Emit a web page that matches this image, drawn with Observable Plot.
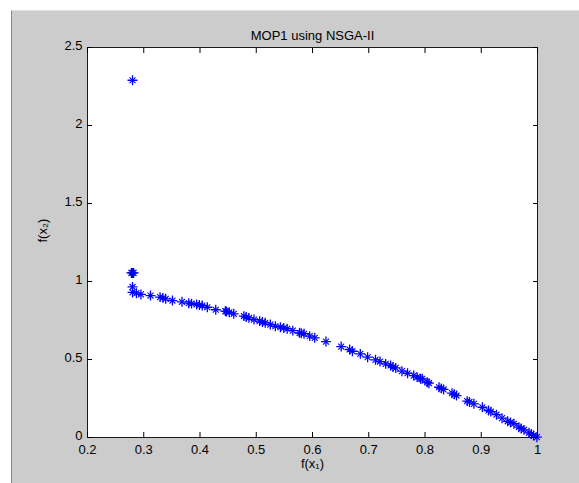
<!DOCTYPE html>
<html>
<head>
<meta charset="utf-8">
<script src="https://cdn.jsdelivr.net/npm/d3@7"></script>
<script src="https://cdn.jsdelivr.net/npm/@observablehq/plot@0.6"></script>
<style>
  html, body { margin: 0; padding: 0; background: #ffffff; width: 579px; height: 483px; overflow: hidden; }
  #fig { position: absolute; left: 11px; top: 10px; width: 568px; height: 473px; background: #cccccc; border-left: 1px solid #8a8a8a; border-top: 1px solid #e0e0e0; }
  #chart { position: absolute; left: 0; top: 0; }
</style>
</head>
<body>
<div id="fig"></div>
<div id="chart"></div>
<script>
const title = "MOP1 using NSGA-II";
const xLabel = "f(x\u2081)";
const yLabel = "f(x\u2082)";
const xTicks = [0.2, 0.3, 0.4, 0.5, 0.6, 0.7, 0.8, 0.9, 1];
const yTicks = [0, 0.5, 1, 1.5, 2, 2.5];

// f(x1) values of the NSGA-II population
const f1 = [0.28, 0.278, 0.282, 0.28, 0.28, 0.28, 0.287, 0.295, 0.312, 0.329, 0.334, 0.339, 0.351, 0.368, 0.38, 0.385, 0.394, 0.399, 0.404, 0.413, 0.428, 0.445, 0.447, 0.452, 0.46, 0.478, 0.482, 0.487, 0.496, 0.506, 0.511, 0.516, 0.525, 0.534, 0.543, 0.549, 0.555, 0.565, 0.577, 0.58, 0.585, 0.595, 0.604, 0.624, 0.651, 0.666, 0.671, 0.685, 0.698, 0.712, 0.72, 0.73, 0.739, 0.743, 0.748, 0.759, 0.769, 0.78, 0.786, 0.792, 0.795, 0.804, 0.807, 0.825, 0.829, 0.833, 0.848, 0.852, 0.856, 0.875, 0.879, 0.887, 0.902, 0.913, 0.917, 0.927, 0.937, 0.947, 0.952, 0.958, 0.967, 0.971, 0.976, 0.985, 0.989, 0.993, 0.999];
// f(x2) values
const f2 = [2.29, 1.055, 1.055, 1.055, 0.965, 0.93, 0.925, 0.917, 0.91, 0.9, 0.895, 0.889, 0.878, 0.87, 0.861, 0.858, 0.853, 0.849, 0.846, 0.835, 0.819, 0.81, 0.808, 0.803, 0.793, 0.778, 0.772, 0.767, 0.756, 0.746, 0.74, 0.735, 0.724, 0.713, 0.707, 0.702, 0.697, 0.685, 0.671, 0.668, 0.665, 0.65, 0.639, 0.615, 0.583, 0.564, 0.553, 0.536, 0.515, 0.498, 0.487, 0.472, 0.462, 0.451, 0.446, 0.425, 0.412, 0.397, 0.387, 0.376, 0.376, 0.354, 0.348, 0.322, 0.315, 0.308, 0.284, 0.277, 0.269, 0.233, 0.228, 0.216, 0.194, 0.173, 0.166, 0.146, 0.124, 0.104, 0.097, 0.088, 0.066, 0.058, 0.049, 0.03, 0.022, 0.013, 0.002];

const pts = f1.map((x, i) => ({x, y: f2[i]}));
const font = "'Liberation Sans', Arial, sans-serif";
const fmt = d => String(d);

const plot = Plot.plot({
  width: 579,
  height: 483,
  marginTop: 47,
  marginLeft: 87,
  marginRight: 42,
  marginBottom: 46,
  style: {background: "transparent", fontFamily: font, fontSize: "13px", color: "black"},
  x: {domain: [0.2, 1]},
  y: {domain: [0, 2.5]},
  marks: [
    Plot.frame({fill: "white"}),
    Plot.dot(pts, {x: "x", y: "y", symbol: "plus", r: 3.3, stroke: "#0000ff", strokeWidth: 1.3}),
    Plot.dot(pts, {x: "x", y: "y", symbol: "times", r: 2.8, stroke: "#0000ff", strokeWidth: 1.1}),
    Plot.frame({stroke: "#1a1a1a", strokeWidth: 1}),
    // tick labels
    Plot.axisX(xTicks, {anchor: "bottom", tickSize: 0, tickPadding: 7, tickFormat: fmt, label: null, fontSize: 13}),
    Plot.axisY(yTicks, {anchor: "left", tickSize: 0, tickPadding: 5, dy: -1.5, tickFormat: fmt, label: null, fontSize: 13}),
    // inward ticks on all four sides
    Plot.axisX(xTicks, {anchor: "bottom", tickSize: 5, dy: -5, tickFormat: () => "", label: null}),
    Plot.axisX(xTicks, {anchor: "top", tickSize: 5, dy: 5, tickFormat: () => "", label: null}),
    Plot.axisY(yTicks, {anchor: "left", tickSize: 5, dx: 5, tickFormat: () => "", label: null}),
    Plot.axisY(yTicks, {anchor: "right", tickSize: 5, dx: -5, tickFormat: () => "", label: null}),
    // title and axis labels
    Plot.text([title], {frameAnchor: "top", dy: -17, text: d => d, fontSize: 13}),
    Plot.text([xLabel], {frameAnchor: "bottom", dy: 30, text: d => d, fontSize: 13}),
    Plot.text([yLabel], {frameAnchor: "left", dx: -45, rotate: -90, text: d => d, fontSize: 13})
  ]
});
document.getElementById("chart").appendChild(plot);
</script>
</body>
</html>
